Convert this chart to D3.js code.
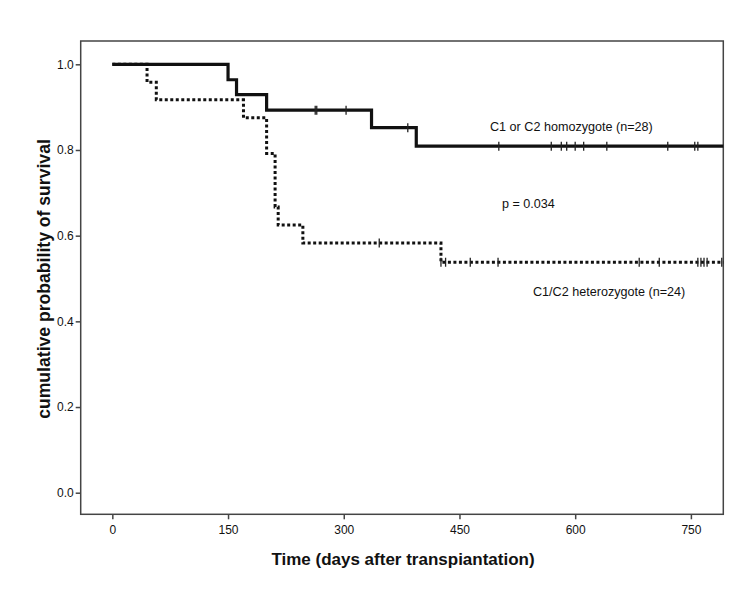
<!DOCTYPE html>
<html>
<head>
<meta charset="UTF-8">
<title>Survival</title>
<script src="https://cdn.jsdelivr.net/npm/d3@7"></script>
<style>
	body { margin: 0; background: #fff; }
	text { font-family: "Liberation Sans", Arial, sans-serif; fill: #111; }
	.tick-label { font-size: 12px; }
	.axis-title { font-weight: bold; }
	.note { font-size: 12.6px; }
</style>
</head>
<body>
<svg id="chart" width="740" height="593"></svg>
<script>
// homozygote group (solid line): event times, survival after each step, censored times
var homoTimes = [150, 161, 200, 336, 394];
var homoSurv = [0.964, 0.929, 0.893, 0.852, 0.809];
var homoCensor = [263, 265, 303, 383, 501, 569, 582, 589, 600, 611, 641, 720, 755, 759];

// heterozygote group (dotted line)
var hetTimes = [45, 57, 170, 200, 211, 215, 247, 426];
var hetSurv = [0.958, 0.917, 0.875, 0.792, 0.667, 0.625, 0.583, 0.538];
var hetCensor = [346, 426, 432, 464, 500, 683, 709, 759, 763, 767, 771, 790];

var xTicks = [0, 150, 300, 450, 600, 750];
var yTicks = [0.0, 0.2, 0.4, 0.6, 0.8, 1.0];

var svg = d3.select("#chart");

var plotLeft = 80.7, plotRight = 723.3, plotTop = 41, plotBottom = 514.3;
var xMin = -41, xMax = 792;

var x = d3.scaleLinear().domain([xMin, xMax]).range([plotLeft, plotRight]);
var y = d3.scaleLinear().domain([-0.0504, 1.0544]).range([plotBottom, plotTop]);

// frame
svg.append("rect")
	.attr("x", plotLeft)
	.attr("y", plotTop)
	.attr("width", plotRight - plotLeft)
	.attr("height", plotBottom - plotTop)
	.attr("fill", "none")
	.attr("stroke", "#444")
	.attr("stroke-width", 1.5);

var xAxis = svg.append("g")
	.attr("transform", "translate(0," + plotBottom + ")")
	.call(d3.axisBottom(x).tickValues(xTicks).tickSize(5).tickPadding(6).tickFormat(d3.format("d")));
xAxis.select(".domain").remove();

var yAxis = svg.append("g")
	.attr("transform", "translate(" + plotLeft + ",0)")
	.call(d3.axisLeft(y).tickValues(yTicks).tickSize(5).tickPadding(2).tickFormat(d3.format(".1f")));
yAxis.select(".domain").remove();

svg.selectAll(".tick line").attr("stroke", "#444").attr("stroke-width", 1.5);
svg.selectAll(".tick text")
	.classed("tick-label", true)
	.attr("font-family", null)
	.attr("font-size", null)
	.attr("fill", "#222");

function stepPoints(times, surv)
{
	var pts = [[0, 1]];
	for (var i = 0; i < times.length; i++)
	{
		pts.push([times[i], surv[i]]);
	}
	pts.push([xMax, surv[surv.length - 1]]);
	return pts;
}

function survAt(t, times, surv)
{
	var s = 1;
	for (var i = 0; i < times.length; i++)
	{
		if (t >= times[i]) s = surv[i];
	}
	return s;
}

var line = d3.line()
	.x(function(d) { return x(d[0]); })
	.y(function(d) { return y(d[1]); })
	.curve(d3.curveStepAfter);

svg.append("path")
	.datum(stepPoints(hetTimes, hetSurv))
	.attr("d", line)
	.attr("fill", "none")
	.attr("stroke", "#111")
	.attr("stroke-width", 3)
	.attr("stroke-dasharray", "3,2.5");

svg.append("path")
	.datum(stepPoints(homoTimes, homoSurv))
	.attr("d", line)
	.attr("fill", "none")
	.attr("stroke", "#111")
	.attr("stroke-width", 3.2);

function drawCensor(censor, times, surv)
{
	svg.append("g").selectAll("line")
		.data(censor)
		.enter()
		.append("line")
		.attr("x1", function(d) { return x(d); })
		.attr("x2", function(d) { return x(d); })
		.attr("y1", function(d) { return y(survAt(d, times, surv)) - 4.5; })
		.attr("y2", function(d) { return y(survAt(d, times, surv)) + 4.5; })
		.attr("stroke", "#222")
		.attr("stroke-width", 1.3);
}
drawCensor(homoCensor, homoTimes, homoSurv);
drawCensor(hetCensor, hetTimes, hetSurv);

// annotations
svg.append("text").attr("class", "note").attr("x", 490).attr("y", 131).text("C1 or C2 homozygote (n=28)");
svg.append("text").attr("class", "note").attr("x", 502).attr("y", 208).text("p = 0.034");
svg.append("text").attr("class", "note").attr("x", 533).attr("y", 296).text("C1/C2 heterozygote (n=24)");

// axis titles
svg.append("text")
	.attr("class", "axis-title")
	.attr("x", 403)
	.attr("y", 565)
	.attr("text-anchor", "middle")
	.style("font-size", "17px")
	.text("Time (days after transpiantation)");

svg.append("text")
	.attr("class", "axis-title")
	.attr("transform", "translate(50,279) rotate(-90)")
	.attr("text-anchor", "middle")
	.style("font-size", "17.6px")
	.text("cumulative probability of survival");
</script>
</body>
</html>
